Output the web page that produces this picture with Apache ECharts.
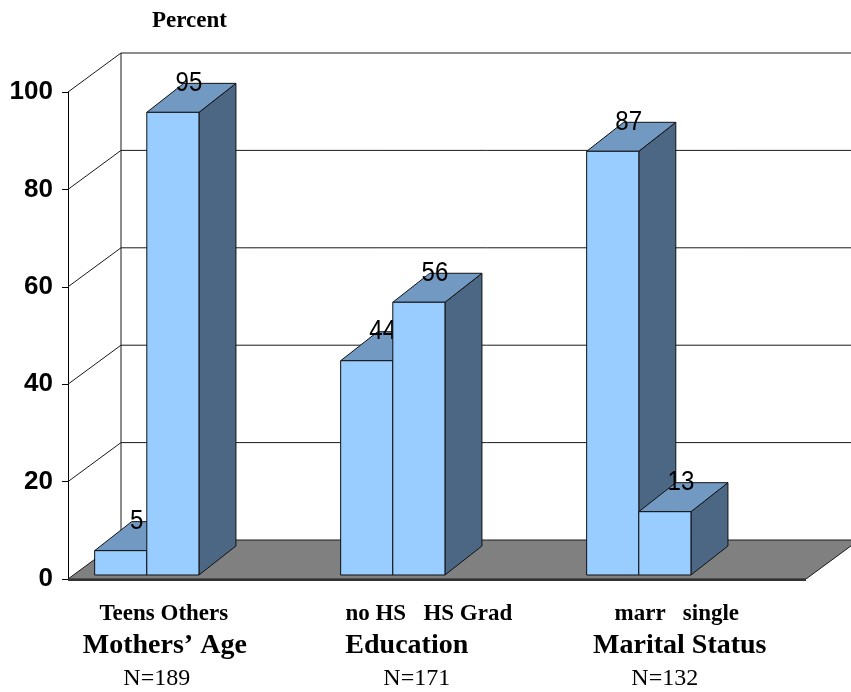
<!DOCTYPE html>
<html>
<head>
<meta charset="utf-8">
<script src="https://cdn.jsdelivr.net/npm/echarts@6/dist/echarts.min.js"></script>
<style>
  html, body { margin: 0; padding: 0; background: #ffffff; }
  #chart { width: 851px; height: 692px; }
</style>
</head>
<body>
<div id="chart"></div>
<script>
// Share of mothers (percent) in each characteristic, two bars per group
const groupNames = ['Mothers’ Age', 'Education', 'Marital Status'];
const groupN = ['N=189', 'N=171', 'N=132'];
const subCategories = [['Teens', 'Others'], ['no HS', 'HS Grad'], ['marr', 'single']];
const percentValues = [[5, 95], [44, 56], [87, 13]];
const yTicks = [0, 20, 40, 60, 80, 100];

// Oblique 3D projection, in pixels
const WALL_DEPTH = [53, -39];   // front plane -> back wall
const BAR_INSET = [5, -4];      // front plane -> bar front face
const BAR_DEPTH = [37, -29];    // bar front face -> bar back face
const BAR_WIDTH = 0.212;        // one bar, in group units

// Horizontal nudge (px) of each label line under a group
const LABEL_NUDGE = { sub: [22, 41, 43], name: [23, 19, 46], n: [15, 29, 31] };
const SUB_GAP = [1, 3, 3];      // spaces between the two sub-category names

const SERIF = '"Liberation Serif", "Times New Roman", serif';
const SANS = '"Liberation Sans", Arial, sans-serif';

const barData = [];
percentValues.forEach((pair, g) => {
  pair.forEach((v, s) => barData.push([g, s, v]));
});

const chart = echarts.init(document.getElementById('chart'));

function frameItem(params, api) {
  const cs = params.coordSys;
  const v = api.value(0);
  const y = api.coord([0, v])[1];
  const xL = cs.x, xR = cs.x + cs.width;
  const bx = xL + WALL_DEPTH[0], by = y + WALL_DEPTH[1];
  const line = { stroke: '#1a1a1a', lineWidth: 1 };
  const children = [];
  if (v > 0) {
    children.push({ type: 'line', shape: { x1: bx, y1: by, x2: xR + WALL_DEPTH[0] + 10, y2: by }, style: line });
    children.push({ type: 'line', shape: { x1: xL, y1: y, x2: bx, y2: by }, style: line });
  }
  if (v === yTicks[yTicks.length - 1]) {
    const y0 = api.coord([0, 0])[1] + WALL_DEPTH[1];
    children.push({ type: 'line', shape: { x1: bx, y1: by, x2: bx, y2: y0 }, style: line });
  }
  return { type: 'group', children };
}

function floorItem(params, api) {
  const cs = params.coordSys;
  const y = api.coord([0, 0])[1];
  const xL = cs.x, xR = cs.x + cs.width;
  return {
    type: 'group',
    children: [
      {
        type: 'polygon',
        shape: { points: [[xL, y], [xR, y], [xR + WALL_DEPTH[0], y + WALL_DEPTH[1]], [xL + WALL_DEPTH[0], y + WALL_DEPTH[1]]] },
        style: { fill: '#808080', stroke: '#1a1a1a', lineWidth: 1 }
      },
      { type: 'line', shape: { x1: xL, y1: y + 1, x2: xR, y2: y + 1 }, style: { stroke: '#333333', lineWidth: 2 } }
    ]
  };
}

function barItem(params, api) {
  const g = api.value(0), s = api.value(1), v = api.value(2);
  const unit = api.size([1, 0])[0];
  const w = unit * BAR_WIDTH;
  const base = api.coord([g, 0]);
  const top = api.coord([g, v]);
  const x0 = base[0] + (s === 0 ? -w : 0) + BAR_INSET[0];
  const x1 = x0 + w;
  const yb = base[1] + BAR_INSET[1];
  const yt = top[1] + BAR_INSET[1];
  const dx = BAR_DEPTH[0], dy = BAR_DEPTH[1];
  const edge = { stroke: '#111111', lineWidth: 1 };
  return {
    type: 'group',
    children: [
      { type: 'polygon', shape: { points: [[x1, yt], [x1 + dx, yt + dy], [x1 + dx, yb + dy], [x1, yb]] },
        style: Object.assign({ fill: '#4c6784' }, edge) },
      { type: 'polygon', shape: { points: [[x0, yt], [x1, yt], [x1 + dx, yt + dy], [x0 + dx, yt + dy]] },
        style: Object.assign({ fill: '#7199c2' }, edge) },
      { type: 'rect', shape: { x: x0, y: yt, width: w, height: yb - yt },
        style: Object.assign({ fill: '#99ccff' }, edge) },
      { type: 'text', x: (x0 + x1) / 2 + 16, y: yt - 29, scaleX: 0.86,
        style: { text: String(v), fill: '#000', font: '28px ' + SANS, align: 'center', verticalAlign: 'middle' } }
    ]
  };
}

function groupLabelItem(params, api) {
  const g = api.value(0);
  const p = api.coord([g, 0]);
  const subs = subCategories[g];
  return {
    type: 'group',
    children: [
      { type: 'text', x: p[0] + LABEL_NUDGE.sub[g], y: p[1] + 35,
        style: { text: subs[0] + ' '.repeat(SUB_GAP[g]) + subs[1], fill: '#000', font: 'bold 23px ' + SERIF, align: 'center', verticalAlign: 'middle' } },
      { type: 'text', x: p[0] + LABEL_NUDGE.name[g], y: p[1] + 67,
        style: { text: groupNames[g], fill: '#000', font: 'bold 28px ' + SERIF, align: 'center', verticalAlign: 'middle' } },
      { type: 'text', x: p[0] + LABEL_NUDGE.n[g], y: p[1] + 100,
        style: { text: groupN[g], fill: '#000', font: '24px ' + SERIF, align: 'center', verticalAlign: 'middle' } }
    ]
  };
}

chart.setOption({
  animation: false,
  backgroundColor: '#ffffff',
  title: {
    text: 'Percent', left: 147, top: 5,
    textStyle: { fontFamily: SERIF, fontWeight: 'bold', fontSize: 23, color: '#000' }
  },
  grid: { left: 68, right: 45, top: 92, bottom: 113 },
  xAxis: {
    type: 'value', min: -0.3, max: 2.7, show: false
  },
  yAxis: {
    type: 'value', min: 0, max: 100, interval: 20,
    axisLine: { show: true, onZero: false, lineStyle: { color: '#000', width: 1 } },
    axisTick: { show: true, length: 6, lineStyle: { color: '#000' } },
    axisLabel: { color: '#000', fontFamily: SANS, fontWeight: 'bold', fontSize: 26, margin: 15 },
    splitLine: { show: false }
  },
  series: [
    { type: 'custom', name: 'walls', z: 1, silent: true, renderItem: frameItem, data: yTicks.map(v => [v]) },
    { type: 'custom', name: 'floor', z: 2, silent: true, renderItem: floorItem, data: [[0]] },
    { type: 'custom', name: 'Percent', z: 3, renderItem: barItem, data: barData },
    { type: 'custom', name: 'groups', z: 4, silent: true, renderItem: groupLabelItem, data: groupNames.map((_, g) => [g]) }
  ]
});
</script>
</body>
</html>
